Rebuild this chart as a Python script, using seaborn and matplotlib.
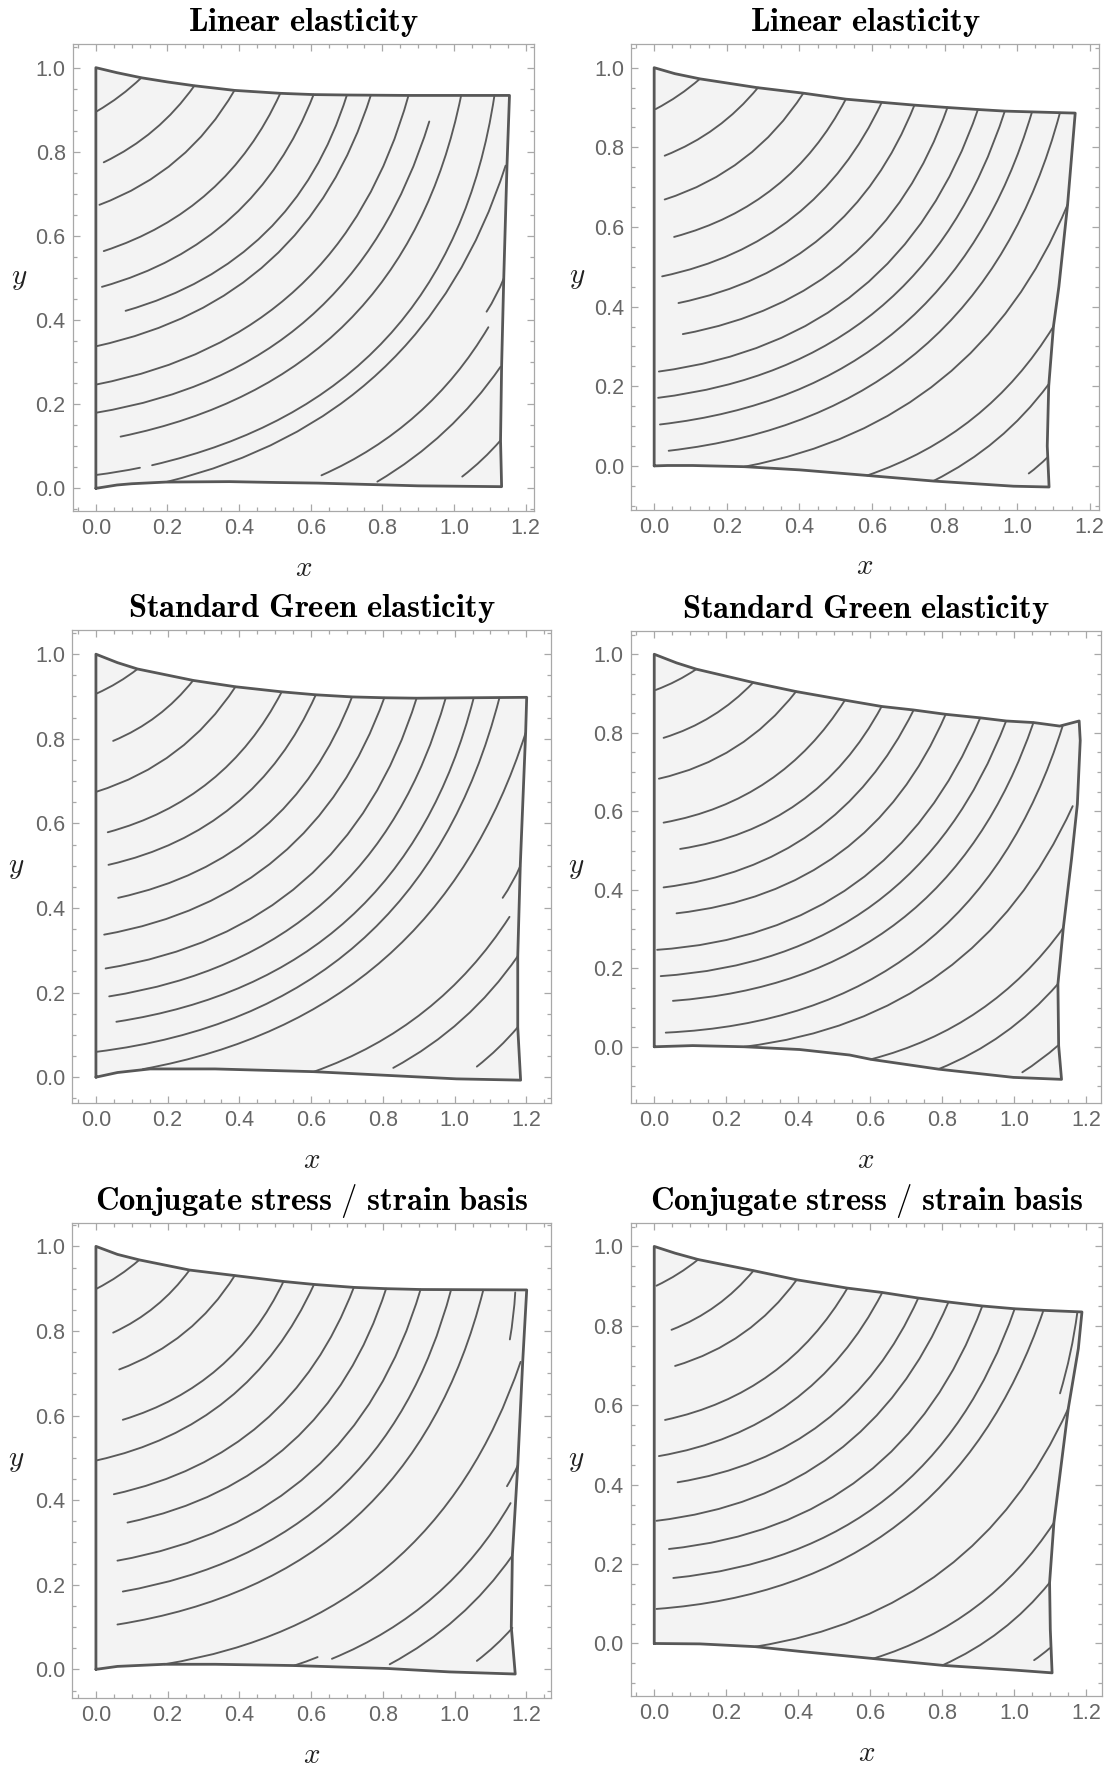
import matplotlib
matplotlib.use("Agg")
import matplotlib.pyplot as plt
import seaborn as sns
from matplotlib.patches import FancyArrowPatch
from matplotlib.ticker import MultipleLocator, FormatStrFormatter

# ---------------------------------------------------------------------------
# Data: deformed outline of the unit square and the trajectories drawn inside
# ---------------------------------------------------------------------------
TITLES = [
    "Linear elasticity", "Linear elasticity",
    "Standard Green elasticity", "Standard Green elasticity",
    "Conjugate stress / strain basis", "Conjugate stress / strain basis",
]

# Outline (closed loop: left edge up, top edge, right edge down, bottom edge back)
P1_X = [0, 0, 0.059, 0.127, 0.2, 0.275, 0.387, 0.515, 0.608, 0.70, 0.87, 1.155,
        1.148, 1.139, 1.133, 1.130, 1.133, 0.90, 0.814, 0.62, 0.50, 0.373, 0.196,
        0.10, 0.059, 0]
P1_Y = [0, 1.0, 0.988, 0.976, 0.966, 0.957, 0.946, 0.939, 0.936, 0.935, 0.934, 0.934,
        0.767, 0.5, 0.29, 0.114, 0.004, 0.006, 0.008, 0.0125, 0.014, 0.016, 0.015,
        0.011, 0.008, 0]

P2_X = [0, 0, 0.057, 0.126, 0.283, 0.411, 0.528, 0.627, 0.717, 0.808, 0.892, 0.966,
        1.041, 1.118, 1.160, 1.139, 1.115, 1.100, 1.087, 1.083, 1.088, 0.990, 0.769,
        0.587, 0.401, 0.249, 0.106, 0.037, 0]
P2_Y = [0, 1.0, 0.985, 0.972, 0.950, 0.936, 0.921, 0.913, 0.906, 0.900, 0.895, 0.891,
        0.889, 0.887, 0.886, 0.656, 0.45, 0.35, 0.20, 0.05, -0.053, -0.051, -0.038,
        -0.024, -0.010, -0.002, 0.001, 0.001, 0]

P3_X = [0, 0, 0.060, 0.116, 0.271, 0.389, 0.518, 0.613, 0.714, 0.804, 0.894, 1.201,
        1.198, 1.183, 1.176, 1.176, 1.184, 1.005, 0.608, 0.332, 0.151, 0.060, 0]
P3_Y = [0, 1.0, 0.980, 0.965, 0.938, 0.923, 0.911, 0.904, 0.899, 0.897, 0.896, 0.898,
        0.814, 0.499, 0.286, 0.118, -0.007, -0.004, 0.013, 0.0195, 0.0195, 0.011, 0]

P4_X = [0, 0, 0.062, 0.117, 0.275, 0.394, 0.530, 0.632, 0.721, 0.810, 0.906, 0.978,
        1.054, 1.127, 1.181, 1.184, 1.176, 1.160, 1.137, 1.122, 1.124, 1.132, 0.998,
        0.790, 0.602, 0.543, 0.404, 0.250, 0.107, 0]
P4_Y = [0, 1.0, 0.978, 0.962, 0.928, 0.905, 0.883, 0.867, 0.858, 0.847, 0.838, 0.830,
        0.826, 0.817, 0.830, 0.780, 0.618, 0.48, 0.303, 0.160, 0.003, -0.083, -0.078,
        -0.057, -0.032, -0.021, -0.007, 0.0, 0.003, 0]

P5_X = [0, 0, 0.060, 0.121, 0.261, 0.387, 0.523, 0.608, 0.719, 0.809, 0.905, 1.201,
        1.190, 1.176, 1.161, 1.158, 1.169, 0.985, 0.814, 0.553, 0.332, 0.191, 0.060, 0]
P5_Y = [0, 1.0, 0.981, 0.968, 0.944, 0.931, 0.917, 0.910, 0.903, 0.900, 0.898, 0.897,
        0.73, 0.482, 0.269, 0.100, -0.011, -0.006, 0.002, 0.009, 0.012, 0.012, 0.007, 0]

P6_X = [0, 0, 0.058, 0.122, 0.276, 0.396, 0.537, 0.634, 0.734, 0.818, 0.912, 1.002,
        1.082, 1.189, 1.179, 1.151, 1.111, 1.099, 1.101, 1.106, 1.002, 0.801, 0.609,
        0.406, 0.281, 0.127, 0]
P6_Y = [0, 1.0, 0.983, 0.967, 0.939, 0.916, 0.895, 0.884, 0.870, 0.860, 0.850, 0.843,
        0.839, 0.835, 0.743, 0.592, 0.304, 0.153, 0.035, -0.074, -0.067, -0.055, -0.038,
        -0.020, -0.008, -0.001, 0]

# Trajectories: (x_start, y_start, x_end, y_end, bend)
P1_LINES = [
    (0.002, 0.896, 0.127, 0.976, 0.06),
    (0.022, 0.775, 0.275, 0.957, 0.13),
    (0.010, 0.674, 0.387, 0.946, 0.18),
    (0.022, 0.564, 0.515, 0.939, 0.22),
    (0.017, 0.479, 0.608, 0.936, 0.25),
    (0.083, 0.422, 0.701, 0.935, 0.27),
    (0.002, 0.338, 0.768, 0.935, 0.29),
    (0.002, 0.247, 0.873, 0.934, 0.31),
    (0.002, 0.180, 0.931, 0.872, 0.31),
    (0.069, 0.123, 1.020, 0.934, 0.33),
    (0.002, 0.032, 0.123, 0.049, 0.02),
    (0.157, 0.055, 1.113, 0.934, 0.34),
    (0.196, 0.015, 1.144, 0.767, 0.28),
    (1.091, 0.420, 1.139, 0.499, 0.05),
    (0.630, 0.031, 1.096, 0.383, 0.16),
    (0.786, 0.016, 1.130, 0.289, 0.11),
    (1.023, 0.028, 1.130, 0.114, 0.05),
]
P2_LINES = [
    (0.004, 0.896, 0.126, 0.972, 0.06),
    (0.029, 0.779, 0.286, 0.950, 0.13),
    (0.029, 0.669, 0.411, 0.936, 0.18),
    (0.055, 0.575, 0.528, 0.921, 0.22),
    (0.022, 0.476, 0.627, 0.913, 0.25),
    (0.067, 0.409, 0.717, 0.906, 0.27),
    (0.079, 0.331, 0.808, 0.900, 0.29),
    (0.013, 0.237, 0.892, 0.895, 0.31),
    (0.011, 0.171, 0.966, 0.891, 0.32),
    (0.016, 0.104, 1.041, 0.889, 0.33),
    (0.040, 0.038, 1.118, 0.887, 0.34),
    (0.249, -0.002, 1.139, 0.656, 0.27),
    (0.587, -0.024, 1.100, 0.350, 0.18),
    (0.769, -0.038, 1.086, 0.204, 0.12),
    (1.032, -0.019, 1.083, 0.021, 0.04),
]
P3_LINES = [
    (0.002, 0.907, 0.116, 0.965, 0.06),
    (0.048, 0.795, 0.271, 0.938, 0.13),
    (0.002, 0.675, 0.389, 0.923, 0.18),
    (0.033, 0.579, 0.518, 0.911, 0.22),
    (0.035, 0.502, 0.613, 0.904, 0.25),
    (0.062, 0.424, 0.714, 0.899, 0.27),
    (0.023, 0.337, 0.804, 0.897, 0.29),
    (0.027, 0.257, 0.894, 0.896, 0.31),
    (0.037, 0.191, 0.975, 0.896, 0.32),
    (0.057, 0.131, 1.053, 0.896, 0.33),
    (0.002, 0.060, 1.125, 0.897, 0.34),
    (0.131, 0.019, 1.198, 0.814, 0.30),
    (1.134, 0.424, 1.183, 0.499, 0.05),
    (0.608, 0.013, 1.153, 0.379, 0.17),
    (0.829, 0.022, 1.176, 0.286, 0.12),
    (1.062, 0.025, 1.176, 0.118, 0.05),
]
P4_LINES = [
    (0.004, 0.909, 0.117, 0.962, 0.06),
    (0.026, 0.787, 0.275, 0.928, 0.13),
    (0.013, 0.683, 0.394, 0.905, 0.18),
    (0.026, 0.571, 0.530, 0.883, 0.22),
    (0.072, 0.504, 0.632, 0.867, 0.25),
    (0.026, 0.406, 0.721, 0.858, 0.27),
    (0.062, 0.340, 0.810, 0.847, 0.29),
    (0.008, 0.247, 0.906, 0.838, 0.31),
    (0.018, 0.180, 0.978, 0.830, 0.32),
    (0.052, 0.117, 1.054, 0.826, 0.33),
    (0.032, 0.036, 1.135, 0.817, 0.35),
    (0.250, 0.000, 1.163, 0.613, 0.28),
    (0.602, -0.032, 1.137, 0.303, 0.18),
    (0.790, -0.057, 1.122, 0.160, 0.12),
    (1.023, -0.065, 1.122, 0.003, 0.04),
]
P5_LINES = [
    (0.002, 0.900, 0.121, 0.968, 0.06),
    (0.048, 0.796, 0.261, 0.944, 0.13),
    (0.065, 0.709, 0.387, 0.931, 0.17),
    (0.075, 0.590, 0.523, 0.917, 0.22),
    (0.002, 0.494, 0.608, 0.910, 0.25),
    (0.050, 0.414, 0.719, 0.903, 0.27),
    (0.088, 0.347, 0.809, 0.900, 0.29),
    (0.060, 0.257, 0.905, 0.898, 0.31),
    (0.075, 0.184, 0.990, 0.897, 0.32),
    (0.060, 0.106, 1.080, 0.897, 0.33),
    (0.191, 0.012, 1.184, 0.727, 0.30),
    (0.553, 0.009, 0.618, 0.029, 0.02),
    (0.658, 0.025, 1.156, 0.393, 0.17),
    (0.819, 0.012, 1.161, 0.269, 0.12),
    (1.062, 0.020, 1.161, 0.098, 0.05),
    (1.154, 0.780, 1.169, 0.891, 0.03),
    (1.146, 0.433, 1.176, 0.482, 0.03),
]
P6_LINES = [
    (0.006, 0.901, 0.122, 0.967, 0.06),
    (0.048, 0.790, 0.276, 0.939, 0.13),
    (0.058, 0.699, 0.396, 0.916, 0.17),
    (0.030, 0.563, 0.537, 0.895, 0.22),
    (0.013, 0.472, 0.634, 0.884, 0.25),
    (0.065, 0.406, 0.734, 0.870, 0.27),
    (0.006, 0.309, 0.818, 0.860, 0.29),
    (0.041, 0.238, 0.912, 0.850, 0.31),
    (0.053, 0.165, 1.002, 0.843, 0.32),
    (0.006, 0.087, 1.082, 0.839, 0.33),
    (0.281, -0.008, 1.151, 0.592, 0.27),
    (0.609, -0.038, 1.111, 0.304, 0.18),
    (0.801, -0.055, 1.099, 0.153, 0.12),
    (1.056, -0.042, 1.099, -0.012, 0.03),
    (1.128, 0.630, 1.176, 0.833, 0.04),
]

OUTLINES = [(P1_X, P1_Y), (P2_X, P2_Y), (P3_X, P3_Y),
            (P4_X, P4_Y), (P5_X, P5_Y), (P6_X, P6_Y)]
TRAJECTORIES = [P1_LINES, P2_LINES, P3_LINES, P4_LINES, P5_LINES, P6_LINES]

# ---------------------------------------------------------------------------
# Layout and style
# ---------------------------------------------------------------------------
W, H = 1111, 1769
# axes boxes in pixels: left, right, top, bottom
BOXES = [
    (72.6, 534.2, 44.1, 511.5), (631.3, 1098.8, 44.2, 509.7),
    (71.9, 551.1, 630.5, 1103.4), (630.5, 1101.1, 630.7, 1102.9),
    (71.9, 551.1, 1223.1, 1697.7), (630.5, 1102.1, 1223.0, 1696.3),
]
XLIMS = [(-0.065, 1.224), (-0.063, 1.225), (-0.067, 1.269),
         (-0.066, 1.242), (-0.067, 1.269), (-0.066, 1.245)]
YLIMS = [(-0.055, 1.056), (-0.110, 1.059), (-0.062, 1.056),
         (-0.143, 1.060), (-0.067, 1.055), (-0.133, 1.059)]

FILL = "#f3f3f3"
EDGE = "#575757"
TRAJ = "#5a5a5a"
FRAME = "#a8a8a8"
LABEL = "#666666"

sns.set_theme(style="ticks")
plt.rcParams["font.family"] = ["Liberation Sans", "DejaVu Sans"]
plt.rcParams["mathtext.fontset"] = "cm"

fig = plt.figure(figsize=(W / 100, H / 100), dpi=100)
fig.patch.set_facecolor("white")

for i in range(6):
    l, r, t, b = BOXES[i]
    ax = fig.add_axes([l / W, 1 - b / H, (r - l) / W, (b - t) / H])
    ax.set_facecolor("white")
    bx, by = OUTLINES[i]

    ax.fill(bx, by, color=FILL, lw=0, zorder=1)
    for x0, y0, x1, y1, bend in TRAJECTORIES[i]:
        ax.add_patch(FancyArrowPatch(
            (x0, y0), (x1, y1), arrowstyle="-",
            connectionstyle=f"arc3,rad={bend}", shrinkA=0, shrinkB=0,
            lw=1.35, color=TRAJ, zorder=2))
    sns.lineplot(x=bx, y=by, sort=False, estimator=None, color=EDGE,
                 lw=2.0, ax=ax, zorder=3, solid_joinstyle="round")

    ax.set_xlim(*XLIMS[i])
    ax.set_ylim(*YLIMS[i])
    ax.set_xlabel("")
    ax.set_ylabel("")

    ax.xaxis.set_major_locator(MultipleLocator(0.2))
    ax.yaxis.set_major_locator(MultipleLocator(0.2))
    ax.xaxis.set_minor_locator(MultipleLocator(0.05))
    ax.yaxis.set_minor_locator(MultipleLocator(0.05))
    ax.xaxis.set_major_formatter(FormatStrFormatter("%.1f"))
    ax.yaxis.set_major_formatter(FormatStrFormatter("%.1f"))

    for sp in ax.spines.values():
        sp.set_visible(True)
        sp.set_color(FRAME)
        sp.set_linewidth(0.9)
    ax.tick_params(which="both", direction="in", top=True, right=True,
                   color=FRAME, width=0.9, labelcolor=LABEL, labelsize=15.5)
    ax.tick_params(which="major", length=5, pad=5)
    ax.tick_params(which="minor", length=3)

    title = TITLES[i].replace(" ", r"\ ")
    ax.set_title(r"$\mathbf{" + title + "}$", fontsize=23.5, pad=9.5, color="black")
    ax.text(0.5, -0.12, "$x$", transform=ax.transAxes, ha="center",
            va="center", fontsize=21, color="#222222")
    ax.text(-0.116, 0.50, "$y$", transform=ax.transAxes, ha="center",
            va="center", fontsize=21, color="#222222")

fig.savefig("out.png", dpi=100, facecolor="white")
